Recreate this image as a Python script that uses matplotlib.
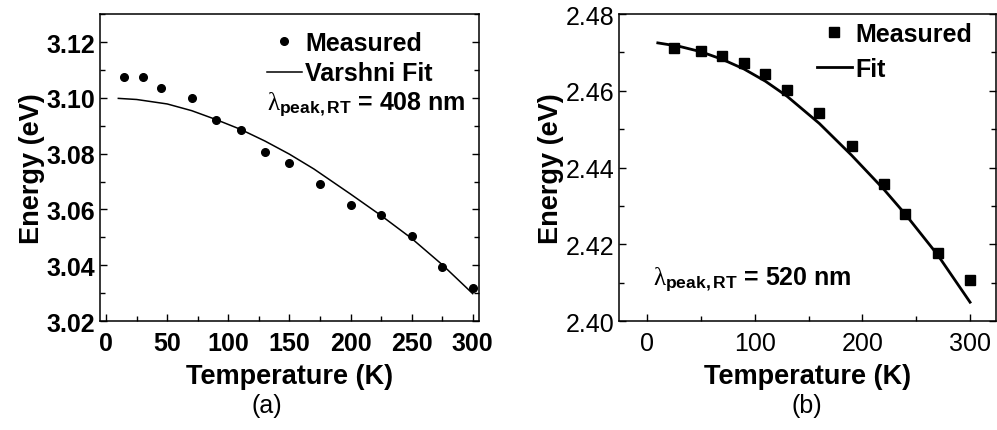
import numpy as np
import matplotlib
matplotlib.use("Agg")
import matplotlib.pyplot as plt

plt.rcParams['font.family'] = ['Liberation Sans', 'DejaVu Sans']
plt.rcParams['mathtext.fontset'] = 'custom'
plt.rcParams['mathtext.it'] = 'Liberation Serif'
plt.rcParams['mathtext.rm'] = 'Liberation Serif'
plt.rcParams['mathtext.bf'] = 'Liberation Sans:bold'

# (a) measured peak energy and Varshni fit
temp_a = [15, 30, 45, 70, 90, 110, 130, 150, 175, 200, 225, 250, 275, 300]
energy_a = [3.1075, 3.1075, 3.1036, 3.0998, 3.0921, 3.0883, 3.0805, 3.0766,
            3.0690, 3.0617, 3.0581, 3.0505, 3.0393, 3.0317]
fit_temp_a = [10, 25, 50, 70, 90, 110, 130, 150, 170, 200, 225, 250, 275, 300]
fit_energy_a = [3.0998, 3.0994, 3.0978, 3.0954, 3.0922, 3.0887, 3.0845, 3.0798,
                3.0745, 3.0655, 3.0578, 3.0496, 3.0402, 3.0298]

# (b) measured peak energy and fit
temp_b = [25, 50, 70, 90, 110, 130, 160, 190, 220, 240, 270, 300]
energy_b = [2.4711, 2.4703, 2.4691, 2.4672, 2.4643, 2.4603, 2.4543, 2.4457,
            2.4356, 2.4278, 2.4176, 2.4106]
fit_temp_b = [10, 30, 50, 70, 90, 110, 130, 160, 190, 220, 240, 270, 300]
fit_energy_b = [2.4725, 2.4716, 2.4702, 2.4682, 2.4657, 2.4625, 2.4586, 2.4515,
                2.4432, 2.4343, 2.4278, 2.4172, 2.4049]

fig = plt.figure(figsize=(9.97, 4.31), dpi=100)
ax1 = fig.add_axes([0.1003, 0.2529, 0.380, 0.712])
ax2 = fig.add_axes([0.6209, 0.2529, 0.378, 0.712])


def style_axis(ax, tick_weight):
    for sp in ax.spines.values():
        sp.set_linewidth(1.1)
    ax.tick_params(which='both', direction='in', right=True, top=False,
                   width=1.0, labelsize=18)
    ax.tick_params(which='major', length=5)
    ax.tick_params(which='minor', length=3.5)
    ax.tick_params(axis='x', which='both', pad=7)
    for lab in ax.get_xticklabels() + ax.get_yticklabels():
        lab.set_fontweight(tick_weight)
    ax.set_xlabel('Temperature (K)', fontsize=19.5, fontweight='bold', labelpad=6)
    ax.set_ylabel('Energy (eV)', fontsize=19.5, fontweight='bold', labelpad=1)


# panel (a)
ax1.plot(temp_a, energy_a, 'o', color='black', markersize=5.5, label='Measured')
ax1.plot(fit_temp_a, fit_energy_a, '-', color='black', linewidth=1.1, label='Varshni Fit')
ax1.set_xlim(-5, 305)
ax1.set_ylim(3.02, 3.13)
ax1.set_xticks(np.arange(0, 301, 50))
ax1.set_xticks(np.arange(0, 301, 25), minor=True)
ax1.set_yticks(np.arange(3.02, 3.121, 0.02))
ax1.set_yticks(np.arange(3.02, 3.131, 0.01), minor=True)
ax1.yaxis.set_major_formatter(matplotlib.ticker.FormatStrFormatter('%.2f'))
style_axis(ax1, 'bold')
ax1.legend(loc='upper left', frameon=False,
           prop={'weight': 'bold', 'size': 18}, handlelength=1.4,
           handletextpad=0.15, borderpad=0, borderaxespad=0, labelspacing=0.25,
           bbox_to_anchor=(0.44, 0.945))
ax1.text(0.44, 0.69, r'$\lambda_{\mathbf{peak,RT}}$' + ' = 408 nm',
         transform=ax1.transAxes, fontsize=18, fontweight='bold')
fig.text(0.268, 0.058, '(a)', fontsize=18, ha='center', va='center')

# panel (b)
ax2.plot(temp_b, energy_b, 's', color='black', markersize=6.5, label='Measured')
ax2.plot(fit_temp_b, fit_energy_b, '-', color='black', linewidth=2.0, label='Fit')
ax2.set_xlim(-26, 324)
ax2.set_ylim(2.40, 2.48)
ax2.set_xticks(np.arange(0, 301, 100))
ax2.set_xticks(np.arange(0, 301, 50), minor=True)
ax2.set_yticks(np.arange(2.40, 2.481, 0.02))
ax2.set_yticks(np.arange(2.40, 2.481, 0.01), minor=True)
ax2.yaxis.set_major_formatter(matplotlib.ticker.FormatStrFormatter('%.2f'))
style_axis(ax2, 'normal')
ax2.legend(loc='upper left', frameon=False,
           prop={'weight': 'bold', 'size': 18}, handlelength=1.4,
           handletextpad=0.15, borderpad=0, borderaxespad=0, labelspacing=0.45,
           bbox_to_anchor=(0.525, 0.975))
ax2.text(0.09, 0.12, r'$\lambda_{\mathbf{peak,RT}}$' + ' = 520 nm',
         transform=ax2.transAxes, fontsize=18, fontweight='bold')
fig.text(0.809, 0.058, '(b)', fontsize=18, ha='center', va='center')

fig.savefig('out.png', dpi=100)
